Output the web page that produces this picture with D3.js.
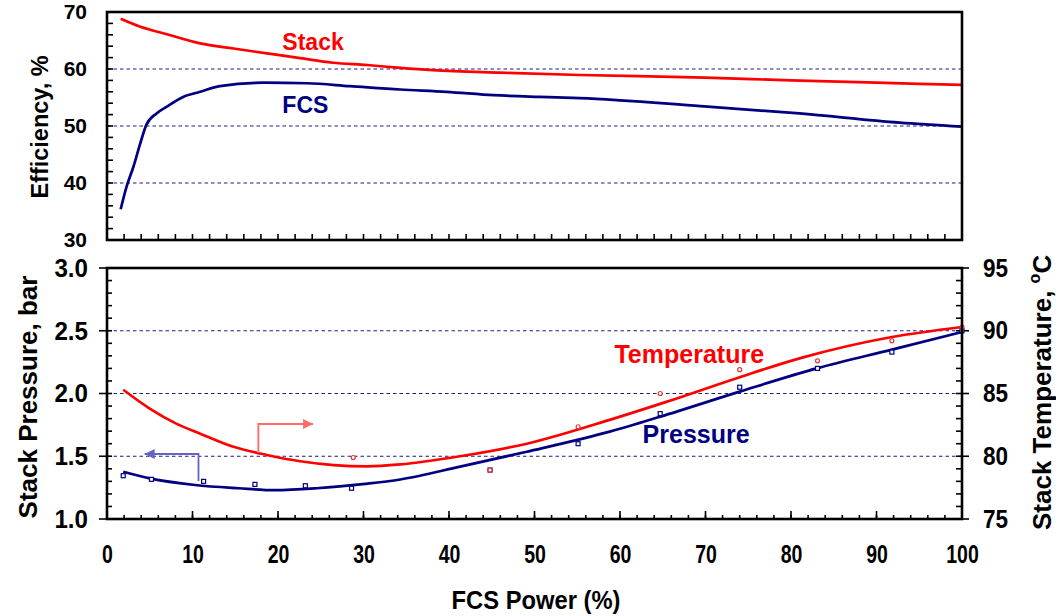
<!DOCTYPE html>
<html>
<head>
<meta charset="utf-8">
<script src="https://cdn.jsdelivr.net/npm/d3@7"></script>
<style>
  body { margin: 0; background: #fff; }
  svg { display: block; }
</style>
</head>
<body>
<svg id="chart" width="1056" height="616"></svg>
<script>
// ---- data ----
// top panel: efficiency (%) vs FCS power (%)
const stackPower = [1.6, 3.9, 7, 10.9, 14.8, 18.7, 22.6, 26.4, 30.4, 34.3, 38.1, 46, 55.3, 70, 80, 90, 100];
const stackEff   = [68.8, 67.4, 66.1, 64.5, 63.6, 62.75, 61.9, 61.1, 60.7, 60.2, 59.8, 59.35, 58.95, 58.5, 58.0, 57.6, 57.2];

const fcsPower = [1.6, 2.3, 3.1, 3.9, 4.6, 5.8, 7, 8.9, 10.9, 13.2, 18.3, 23.4, 28.4, 34.3, 39.7, 45.2, 50.6, 55.3, 69.4, 81, 92.7, 100];
const fcsEff   = [35.4, 39.4, 42.9, 47, 50.2, 52.2, 53.4, 55.1, 56, 57, 57.6, 57.5, 57, 56.4, 56, 55.4, 55.1, 54.9, 53.5, 52.2, 50.6, 49.9];

// bottom panel: stack temperature (°C, right axis) and pressure (bar, left axis)
const tempPower = [1.9, 5, 8.1, 10.9, 14.8, 18.7, 22.6, 26.5, 30.4, 34.3, 41.3, 49.1, 58.8, 65.5, 74, 81, 91.8, 100];
const tempCurve = [85.3, 83.8, 82.6, 81.8, 80.75, 80.1, 79.6, 79.3, 79.2, 79.35, 80.0, 81.0, 82.9, 84.35, 86.3, 87.8, 89.5, 90.3];

const presPower = [1.9, 5, 10.3, 15.4, 19.6, 24.5, 30.2, 34.3, 41.3, 49.1, 58.8, 64.7, 74, 83, 91.8, 100];
const presCurve = [1.377, 1.324, 1.271, 1.245, 1.23, 1.245, 1.28, 1.315, 1.417, 1.536, 1.696, 1.815, 2.015, 2.2, 2.35, 2.49];

// measured points
const presPtPower = [1.9, 5.2, 11.3, 17.3, 23.2, 28.6, 44.8, 55.1, 64.7, 74, 83.1, 91.8, 100];
const presPts     = [1.345, 1.316, 1.30, 1.276, 1.265, 1.245, 1.39, 1.60, 1.84, 2.05, 2.2, 2.33, 2.5];
const tempPtPower = [28.8, 44.8, 55.1, 64.7, 74, 83.1, 91.8, 100];
const tempPts     = [79.9, 78.9, 82.35, 85.0, 86.9, 87.6, 89.2, 90.3];

// tick labels
const powerTicks = [0, 10, 20, 30, 40, 50, 60, 70, 80, 90, 100];
const effTicks   = [30, 40, 50, 60, 70];
const presTicks  = [1.0, 1.5, 2.0, 2.5, 3.0];
const tempTicks  = [75, 80, 85, 90, 95];

// ---- layout ----
const svg = d3.select("#chart");
const FONT = "'Liberation Sans', Arial, sans-serif";
const RED = "#ff0000", NAVY = "#000080";

const x = d3.scaleLinear().domain([0, 100]).range([107, 962]);
const yEff = d3.scaleLinear().domain([30, 70]).range([240, 12]);
const yPres = d3.scaleLinear().domain([1, 3]).range([519, 268]);
const yTemp = d3.scaleLinear().domain([75, 95]).range([519, 268]);

// arrow heads
const defs = svg.append("defs");
[["arrRed", "#ff6a6a"], ["arrBlue", "#6464c4"]].forEach(([id, c]) => {
    defs.append("marker")
        .attr("id", id)
        .attr("viewBox", "0 0 10 10")
        .attr("refX", 10).attr("refY", 5)
        .attr("markerUnits", "userSpaceOnUse")
        .attr("markerWidth", 11).attr("markerHeight", 10)
        .attr("orient", "auto")
        .append("path").attr("d", "M0,0L10,5L0,10z").attr("fill", c);
});

// dashed grid lines
function grid(values, yScale) {
    svg.append("g").selectAll("line").data(values).join("line")
        .attr("x1", x(0)).attr("x2", x(100))
        .attr("y1", d => yScale(d)).attr("y2", d => yScale(d))
        .attr("stroke", "#1c1c84")
        .attr("stroke-width", 1.2)
        .attr("stroke-dasharray", "3.5,3");
}
grid([40, 50, 60], yEff);
grid([1.5, 2.0, 2.5], yPres);

// tick marks: vertical axis ticks (from, to are x offsets from the axis line)
function yTicks(values, yScale, ax, from, to) {
    svg.append("g").selectAll("line").data(values).join("line")
        .attr("x1", ax + from).attr("x2", ax + to)
        .attr("y1", d => yScale(d)).attr("y2", d => yScale(d))
        .attr("stroke", "#000").attr("stroke-width", 1.6);
}
function xTicks(values, ay, len) {
    svg.append("g").selectAll("line").data(values).join("line")
        .attr("x1", d => x(d)).attr("x2", d => x(d))
        .attr("y1", ay).attr("y2", ay - len)
        .attr("stroke", "#000").attr("stroke-width", 1.6);
}
// top panel
yTicks(d3.range(30, 71, 2), yEff, x(0), 0, 6);
xTicks(d3.range(0, 101, 2), yEff(30), 6);
// bottom panel
yTicks(d3.range(10, 31).map(d => d / 10), yPres, x(0), 0, 5);
yTicks(presTicks, yPres, x(0), -8, 0);
yTicks(d3.range(75, 96, 1), yTemp, x(100), -6, 0);
yTicks(tempTicks, yTemp, x(100), 0, 7);
xTicks(d3.range(0, 101, 2), yPres(1), 4);
xTicks(powerTicks, yPres(1), 8);

// tick labels through d3 axes (tick lines hidden, drawn above)
function styleAxis(g, size, scaleX) {
    g.select(".domain").remove();
    g.selectAll(".tick line").remove();
    g.selectAll("text")
        .attr("font-family", FONT)
        .attr("font-weight", "bold")
        .attr("font-size", size)
        .attr("fill", "#000");
    if (scaleX !== 1) {
        g.selectAll("text").each(function () {
            const t = d3.select(this);
            const x0 = +t.attr("x") || 0;
            t.attr("x", x0 / scaleX).attr("transform", `scale(${scaleX},1)`);
        });
    }
}
svg.append("g").attr("transform", `translate(${x(0)},0)`)
    .call(d3.axisLeft(yEff).tickValues(effTicks).tickSize(0).tickPadding(20))
    .call(g => styleAxis(g, 21, 1));
svg.append("g").attr("transform", `translate(${x(0)},0)`)
    .call(d3.axisLeft(yPres).tickValues(presTicks).tickSize(0).tickPadding(19).tickFormat(d3.format(".1f")))
    .call(g => styleAxis(g, 26, 0.93));
svg.append("g").attr("transform", `translate(${x(100)},0)`)
    .call(d3.axisRight(yTemp).tickValues(tempTicks).tickSize(0).tickPadding(21))
    .call(g => styleAxis(g, 25, 0.9));
svg.append("g").attr("transform", `translate(0,${yPres(1)})`)
    .call(d3.axisBottom(x).tickValues(powerTicks).tickSize(0).tickPadding(26))
    .call(g => styleAxis(g, 25, 0.78));

// curves
function curve(xs, ys, yScale, color) {
    const line = d3.line()
        .x(d => x(d[0]))
        .y(d => yScale(d[1]))
        .curve(d3.curveMonotoneX);
    svg.append("path")
        .datum(xs.map((v, i) => [v, ys[i]]))
        .attr("d", line)
        .attr("fill", "none")
        .attr("stroke", color)
        .attr("stroke-width", 2.7);
}
curve(stackPower, stackEff, yEff, RED);
curve(fcsPower, fcsEff, yEff, NAVY);
curve(tempPower, tempCurve, yTemp, RED);
curve(presPower, presCurve, yPres, NAVY);

// measured points
svg.append("g").selectAll("rect")
    .data(presPtPower.map((v, i) => [v, presPts[i]]))
    .join("rect")
    .attr("x", d => x(d[0]) - 2).attr("y", d => yPres(d[1]) - 2)
    .attr("width", 4).attr("height", 4)
    .attr("fill", "#fff").attr("stroke", NAVY).attr("stroke-width", 1.2);
svg.append("g").selectAll("circle")
    .data(tempPtPower.map((v, i) => [v, tempPts[i]]))
    .join("circle")
    .attr("cx", d => x(d[0])).attr("cy", d => yTemp(d[1]))
    .attr("r", 2)
    .attr("fill", "#fff").attr("stroke", "#e03a3a").attr("stroke-width", 1.2);

// arrows pointing to each curve's axis
svg.append("path")
    .attr("d", d3.line()([[x(17.7), yTemp(80.26)], [x(17.7), yTemp(82.57)], [x(24.1), yTemp(82.57)]]))
    .attr("fill", "none").attr("stroke", "#ff6a6a").attr("stroke-width", 1.8)
    .attr("marker-end", "url(#arrRed)");
svg.append("path")
    .attr("d", d3.line()([[x(10.7), yPres(1.303)], [x(10.7), yPres(1.518)], [x(4.4), yPres(1.518)]]))
    .attr("fill", "none").attr("stroke", "#6464c4").attr("stroke-width", 1.8)
    .attr("marker-end", "url(#arrBlue)");

// panel frames
[[yEff(70), yEff(30)], [yPres(3), yPres(1)]].forEach(([t, b]) => {
    svg.append("rect")
        .attr("x", x(0)).attr("y", t)
        .attr("width", x(100) - x(0)).attr("height", b - t)
        .attr("fill", "none").attr("stroke", "#000").attr("stroke-width", 2.6);
});

// series labels
function label(txt, px, py, color, size) {
    svg.append("text")
        .attr("x", px).attr("y", py)
        .attr("text-anchor", "middle")
        .attr("font-family", FONT).attr("font-weight", "bold")
        .attr("font-size", size).attr("fill", color)
        .text(txt);
}
label("Stack", x(24.1), yEff(63.3), RED, 23);
label("FCS", x(23.2), yEff(52.3), NAVY, 23);
label("Temperature", x(68.1), yTemp(87.43), RED, 25);
label("Pressure", x(68.9), yPres(1.606), NAVY, 25);

// axis titles
svg.append("text")
    .attr("transform", "translate(48,127) rotate(-90)")
    .attr("text-anchor", "middle")
    .attr("font-family", FONT).attr("font-weight", "bold").attr("font-size", 23.5)
    .text("Efficiency, %");
svg.append("text")
    .attr("transform", "translate(37,397) rotate(-90)")
    .attr("text-anchor", "middle")
    .attr("font-family", FONT).attr("font-weight", "bold").attr("font-size", 26)
    .text("Stack Pressure, bar");
const tt = svg.append("text")
    .attr("transform", "translate(1051,530) rotate(-90)")
    .attr("text-anchor", "start")
    .attr("font-family", FONT).attr("font-weight", "bold").attr("font-size", 26);
tt.append("tspan").text("Stack Temperature, ");
tt.append("tspan").attr("font-size", 16).attr("dy", -11).text("o");
tt.append("tspan").attr("dy", 11).text("C");
svg.append("text")
    .attr("transform", "translate(536,609) scale(0.95,1)")
    .attr("text-anchor", "middle")
    .attr("font-family", FONT).attr("font-weight", "bold").attr("font-size", 25)
    .text("FCS Power (%)");
</script>
</body>
</html>
